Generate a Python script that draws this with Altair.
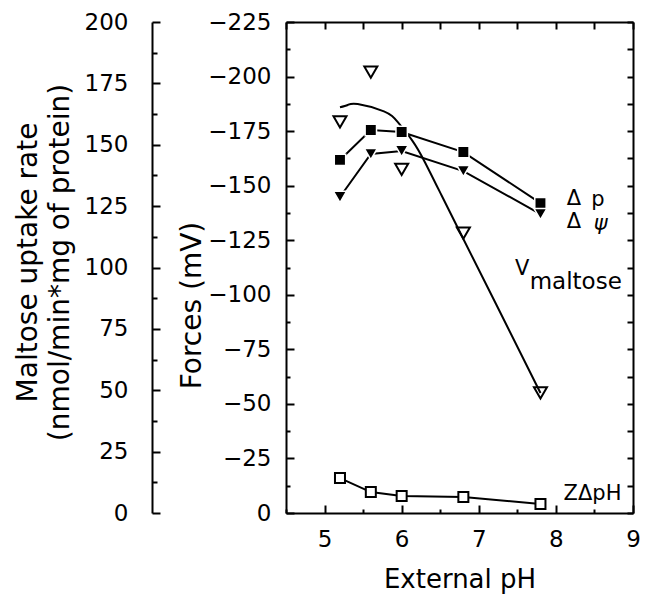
import altair as alt
import pandas as pd

FONT = "DejaVu Sans"

# ---- data ----
ph = [5.2, 5.6, 6.0, 6.8, 7.8]
delta_p = [161.8, 175.5, 174.6, 165.4, 142.0]          # mV (plotted as negative)
delta_psi = [144.8, 164.5, 165.9, 156.7, 137.0]        # mV
z_delta_ph = [16.0, 9.6, 7.8, 7.3, 4.1]                # mV
v_maltose = [159.3, 179.6, 140.0, 114.0, 48.9]         # nmol/min*mg

fit_ph = [5.20, 5.30, 5.43, 5.77, 5.95, 6.14, 6.30, 6.52, 6.80, 7.23, 7.80]
fit_maltose = [165.3, 166.2, 166.6, 163.6, 159.2, 151.6, 143.0, 129.2, 111.6, 84.7, 48.9]

x_major = [5, 6, 7, 8, 9]
x_ticks = [4.5, 5, 5.5, 6, 6.5, 7, 7.5, 8, 8.5, 9]
mal_labels = [0, 25, 50, 75, 100, 125, 150, 175, 200]
mal_ticks = [0, 12.5, 25, 37.5, 50, 62.5, 75, 87.5, 100, 112.5, 125, 137.5,
             150, 162.5, 175, 187.5, 200]
force_labels = [0, 25, 50, 75, 100, 125, 150, 175, 200, 225]
force_ticks = [0, 12.5, 25, 37.5, 50, 62.5, 75, 87.5, 100, 112.5, 125, 137.5,
               150, 162.5, 175, 187.5, 200, 212.5, 225]

ann_text = ["Δ", "p", "Δ", "V", "ZΔpH"]
ann_ph = [8.14, 8.46, 8.14, 7.47, 8.10]
ann_mv = [143.9, 143.6, 133.4, 111.8, 8.7]
sub_text = ["maltose"]
sub_ph = [7.66]
sub_mv = [105.8]
ital_text = ["ψ"]
ital_ph = [8.49]
ital_mv = [132.5]

W, H = 347, 491
OUTER = 134

pts = pd.DataFrame({"ph": ph, "dp": delta_p, "dpsi": delta_psi,
                    "zph": z_delta_ph, "vm": v_maltose})
fit = pd.DataFrame({"ph": fit_ph, "vm": fit_maltose})
ann = pd.DataFrame({"t": ann_text, "ph": ann_ph, "mv": ann_mv})
sub = pd.DataFrame({"t": sub_text, "ph": sub_ph, "mv": sub_mv})
ital = pd.DataFrame({"t": ital_text, "ph": ital_ph, "mv": ital_mv})

xs = alt.Scale(domain=[4.5, 9], nice=False, zero=False)
ms = alt.Scale(domain=[0, 200], nice=False, zero=False)
fs = alt.Scale(domain=[0, 225], nice=False, zero=False)


def ax(**kw):
    base = dict(grid=False, domainColor="black", domainWidth=2, tickColor="black",
                tickWidth=2, labelFont=FONT, labelColor="black", titleFont=FONT,
                titleColor="black", titleFontWeight="normal", title="")
    base.update(kw)
    return alt.Axis(**base)


def major(step, big, small):
    return {"condition": {"test": f"datum.value % {step} === 0", "value": big},
            "value": small}


x_label_axis = ax(orient="bottom", values=x_major, ticks=False, tickSize=0,
                  domain=True, labelFontSize=23, labelPadding=15, labelFlush=False,
                  title="External pH", titleFontSize=26, titleY=66,
                  titleBaseline="middle")
x_inner_ticks = ax(orient="top", offset=-H, values=x_ticks, labels=False,
                   domain=False, tickSize=major(1, 8, 4))
x_top_border = ax(orient="bottom", offset=-H, values=x_ticks, labels=False,
                  domain=True, tickSize=7)

mal_label_axis = ax(orient="left", offset=OUTER, values=mal_labels, ticks=False,
                    tickSize=0, domain=False, labelFontSize=23, labelPadding=24,
                    title=["Maltose uptake rate", "(nmol/min*mg of protein)"],
                    titleFontSize=28, titleX=-116, titleY=240, titleAngle=270,
                    titleBaseline="alphabetic", titleLineHeight=32,
                    titleAlign="center")
mal_tick_axis = ax(orient="right", offset=-(W + OUTER), values=mal_ticks,
                   labels=False, domain=True, tickSize=major(25, 8, 5))

force_label_axis = ax(orient="left", values=force_labels, ticks=False, tickSize=0,
                      domain=False, labelFontSize=23, labelPadding=15,
                      labelExpr="datum.value === 0 ? '0' : '−' + datum.label",
                      title="Forces (mV)", titleFontSize=28, titleX=-94,
                      titleY=283, titleAngle=270, titleBaseline="middle",
                      titleAlign="center")
force_inner_ticks = ax(orient="right", offset=-W, values=force_ticks, labels=False,
                       domain=True, tickSize=major(25, 8, 4))
force_right_border = ax(orient="left", offset=-W, values=force_ticks, labels=False,
                        domain=True, tickSize=6)

X = lambda a: alt.X("ph:Q", scale=xs, axis=a)
XN = alt.X("ph:Q", scale=xs, axis=None)

l_mal_pts = alt.Chart(pts).mark_point(
    shape="triangle-down", filled=False, size=170, strokeWidth=2, color="black",
    opacity=1).encode(x=X(x_label_axis), y=alt.Y("vm:Q", scale=ms, axis=mal_label_axis))

l_fit = alt.Chart(fit).mark_line(color="black", strokeWidth=2,
                                 interpolate="natural").encode(
    x=X(x_inner_ticks), y=alt.Y("vm:Q", scale=ms, axis=mal_tick_axis))

l_dp = alt.Chart(pts).mark_line(color="black", strokeWidth=2).encode(
    x=X(x_top_border), y=alt.Y("dp:Q", scale=fs, axis=force_label_axis))
l_dp_pts = alt.Chart(pts).mark_point(
    shape="square", filled=True, size=130, fill="black", stroke="white",
    strokeWidth=1.5, opacity=1).encode(x=XN, y=alt.Y("dp:Q", scale=fs, axis=None))

l_dpsi = alt.Chart(pts).mark_line(color="black", strokeWidth=2).encode(
    x=XN, y=alt.Y("dpsi:Q", scale=fs, axis=force_inner_ticks))
l_dpsi_pts = alt.Chart(pts).mark_point(
    shape="triangle-down", filled=True, size=170, fill="black", stroke="white",
    strokeWidth=1.5, opacity=1).encode(x=XN, y=alt.Y("dpsi:Q", scale=fs, axis=None))

l_z = alt.Chart(pts).mark_line(color="black", strokeWidth=2).encode(
    x=XN, y=alt.Y("zph:Q", scale=fs, axis=force_right_border))
l_z_pts = alt.Chart(pts).mark_point(
    shape="square", filled=True, size=100, fill="white", stroke="black",
    strokeWidth=2, opacity=1).encode(x=XN, y=alt.Y("zph:Q", scale=fs, axis=None))

l_ann = alt.Chart(ann).mark_text(
    font=FONT, fontSize=21, color="black", align="left", baseline="middle").encode(
    x=XN, y=alt.Y("mv:Q", scale=fs, axis=None), text="t:N")
l_sub = alt.Chart(sub).mark_text(
    font=FONT, fontSize=23, color="black", align="left", baseline="middle").encode(
    x=XN, y=alt.Y("mv:Q", scale=fs, axis=None), text="t:N")
l_ital = alt.Chart(ital).mark_text(
    font=FONT, fontSize=21, fontStyle="italic", color="black", align="left",
    baseline="middle").encode(
    x=XN, y=alt.Y("mv:Q", scale=fs, axis=None), text="t:N")

chart = alt.layer(
    l_mal_pts, l_fit, l_dp, l_dpsi, l_z, l_dp_pts, l_dpsi_pts, l_z_pts,
    l_ann, l_sub, l_ital
).resolve_scale(x="independent", y="independent").properties(
    width=W, height=H,
    autosize=alt.AutoSizeParams(type="none"),
    padding={"left": 278, "top": 14, "right": 7, "bottom": 84},
).configure_view(strokeWidth=0).configure(background="white")

chart.save("out.html", embed_options={"renderer": "svg", "actions": False})
